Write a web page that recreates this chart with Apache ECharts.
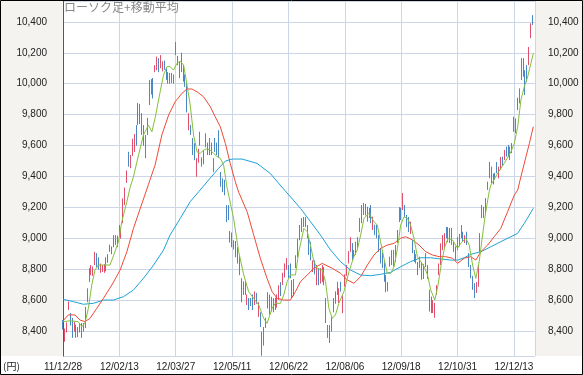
<!DOCTYPE html>
<html><head><meta charset="utf-8">
<script src="https://cdn.jsdelivr.net/npm/echarts@6/dist/echarts.min.js"></script>
<style>html,body{margin:0;padding:0;background:#fff}#c{width:583px;height:375px}</style>
</head><body><div id="c"></div>
<script>
// x tick labels (every 30 trading days, starting at index 0)
const tickLabels = ['11/12/28','12/02/13','12/03/27','12/05/11','12/06/22','12/08/06','12/09/18','12/10/31','12/12/13'];
// daily candles: [open, close, low, high], index = trading day
const candles = [
[8440,8423,8415,8475],[8380,8398,8335,8420],[8400,8455,8395,8460],[8545,8580,8540,8595],[8515,8488,8440,8520],
[8480,8390,8360,8488],[8405,8450,8400,8465],[8440,8390,8360,8445],[8420,8385,8365,8430],[8400,8440,8395,8455],
[8450,8378,8360,8456],[8405,8450,8400,8456],[8440,8550,8424,8560],[8600,8660,8590,8680],[8725,8780,8720,8810],
[8770,8800,8765,8830],[8780,8790,8760,8820],[8835,8890,8830,8915],[8900,8850,8817,8907],[8870,8820,8800,8880],
[8785,8830,8780,8840],[8790,8820,8785,8830],[8800,8810,8780,8835],[8800,8870,8790,8880],[8890,8855,8845,8900],
[8955,8925,8915,8962],[8930,8917,8900,8950],[8950,9015,8945,9023],[8965,9005,8960,9023],[8955,9000,8945,9020],
[9025,9060,9015,9088],[9020,9050,9000,9070],[9110,9250,9100,9260],[9250,9320,9217,9330],[9370,9430,9360,9440],
[9555,9490,9465,9561],[9460,9530,9455,9540],[9540,9630,9535,9645],[9570,9660,9560,9675],[9725,9620,9600,9733],
[9870,9750,9733,9876],[9860,9760,9740,9870],[9800,9690,9670,9810],[9720,9620,9600,9733],[9530,9660,9520,9670],
[9680,9770,9670,9780],[9870,10010,9862,10024],[9950,10020,9930,10030],[10030,9920,9905,10037],[10078,10115,10075,10120],
[10090,10170,10088,10175],[10160,10080,10075,10165],[10105,10180,10100,10185],[10085,10140,10080,10145],[10140,10110,10090,10150],
[10095,10030,10025,10100],[10070,10005,10000,10075],[10010,10060,10000,10070],[10060,10020,10005,10070],[10020,10040,10000,10060],
[10190,10250,10185,10270],[10175,10125,10120,10180],[10135,10045,10036,10140],[10195,10085,10075,10200],[10115,10020,10013,10120],
[10050,10000,9980,10060],[10005,9825,9815,10010],[9705,9800,9700,9810],[9730,9680,9670,9735],[9645,9550,9540,9650],
[9610,9515,9507,9617],[9405,9510,9400,9520],[9510,9560,9490,9580],[9605,9680,9600,9690],[9520,9470,9465,9525],
[9560,9500,9480,9570],[9595,9670,9590,9680],[9615,9545,9540,9620],[9640,9560,9540,9650],[9560,9600,9540,9620],
[9435,9515,9430,9520],[9645,9565,9560,9650],[9600,9560,9540,9620],[9695,9530,9525,9700],[9425,9340,9335,9430],
[9380,9330,9300,9390],[9375,9290,9280,9380],[9210,9120,9107,9217],[9200,9150,9120,9217],[9045,8990,8975,9050],
[9030,8955,8945,9040],[8960,8970,8930,8990],[8970,8900,8880,8985],[8940,8850,8840,8945],[8885,8780,8765,8893],
[8740,8600,8590,8745],[8640,8715,8637,8725],[8720,8645,8637,8725],[8575,8630,8572,8640],[8615,8545,8540,8617],
[8610,8575,8565,8617],[8635,8550,8540,8640],[8575,8650,8572,8660],[8640,8600,8580,8650],[8500,8585,8495,8590],
[8520,8440,8430,8525],[8255,8390,8245,8400],[8330,8410,8310,8430],[8430,8480,8424,8490],[8555,8645,8550,8655],
[8630,8540,8510,8640],[8545,8610,8530,8625],[8600,8540,8525,8617],[8545,8600,8540,8620],[8560,8630,8555,8640],
[8610,8690,8605,8700],[8700,8650,8630,8720],[8705,8770,8700,8780],[8760,8820,8750,8840],[8805,8865,8800,8875],
[8825,8760,8745,8830],[8835,8750,8745,8840],[8725,8630,8617,8733],[8640,8720,8630,8740],[8815,8885,8810,8893],
[8890,8990,8880,9000],[8995,9080,8990,9088],[9050,9125,9043,9133],[9130,9090,9075,9140],[9135,9080,9075,9140],
[9010,9080,9003,9088],[9005,8900,8895,9010],[8975,8870,8860,8980],[8790,8850,8785,8860],[8850,8790,8770,8860],
[8705,8820,8700,8830],[8805,8710,8700,8810],[8720,8790,8710,8810],[8725,8820,8720,8830],[8810,8705,8700,8817],
[8610,8470,8456,8617],[8365,8435,8360,8443],[8440,8340,8327,8443],[8405,8490,8400,8497],[8530,8610,8525,8617],
[8640,8600,8580,8660],[8640,8715,8637,8722],[8590,8670,8585,8680],[8715,8665,8658,8722],[8525,8625,8520,8635],
[8700,8760,8690,8770],[8770,8810,8760,8830],[8850,8900,8840,8920],[8920,9000,8915,9010],[8965,8870,8862,8972],
[8920,8880,8875,8927],[8900,8970,8895,8980],[8945,9005,8940,9010],[9045,9125,9043,9133],[9105,9205,9100,9217],
[9160,9220,9153,9230],[9210,9170,9150,9225],[9200,9120,9110,9206],[9140,9190,9133,9198],[9210,9105,9100,9217],
[9060,9135,9056,9142],[9085,9030,9023,9090],[9080,9010,9003,9088],[9020,8925,8915,9023],[8930,8850,8840,8940],
[8905,8815,8810,8913],[8845,8730,8722,8852],[8760,8665,8655,8765],[8700,8680,8660,8720],[8825,8875,8820,8884],
[8835,8920,8830,8926],[8825,8880,8820,8927],[8855,8950,8850,8960],[8975,9050,8972,9056],[9110,9195,9107,9204],
[9190,9130,9120,9200],[9190,9280,9185,9294],[9210,9145,9140,9217],[9150,9080,9075,9153],[9135,9050,9043,9140],
[9050,9090,9030,9110],[8985,8910,8906,8990],[8925,8860,8850,8927],[8860,8880,8840,8900],[8845,8775,8765,8850],
[8815,8875,8810,8884],[8845,8745,8735,8850],[8750,8820,8740,8835],[8820,8900,8817,8907],[8820,8760,8740,8830],
[8665,8545,8530,8670],[8620,8530,8520,8626],[8525,8595,8520,8604],[8495,8580,8490,8585],[8640,8695,8637,8700],
[8770,8835,8765,8840],[8840,8960,8830,8970],[8930,9015,8927,9023],[8945,9025,8940,9036],[9070,9010,9003,9075],
[8980,9060,8978,9075],[9065,8980,8972,9069],[8980,9050,8960,9070],[8975,8920,8915,8978],[8930,8880,8860,8950],
[8930,9000,8927,9010],[8960,9000,8950,9030],[9005,9080,9003,9088],[9040,8985,8980,9045],[8975,9015,8972,9023],
[9040,8965,8960,9045],[8900,8825,8817,8907],[8825,8755,8745,8830],[8750,8690,8670,8760],[8700,8640,8617,8713],
[8660,8700,8650,8720],[8700,8820,8690,8830],[8915,9025,8913,9036],[9135,9210,9133,9217],[9140,9195,9133,9206],
[9160,9250,9153,9262],[9320,9360,9315,9368],[9490,9400,9390,9495],[9460,9370,9357,9465],[9370,9400,9350,9420],
[9420,9385,9379,9425],[9490,9430,9423,9495],[9395,9460,9390,9465],[9445,9520,9443,9527],[9515,9480,9470,9530],
[9510,9565,9507,9572],[9590,9535,9530,9594],[9600,9530,9527,9605],[9510,9590,9508,9594],[9615,9560,9552,9617],
[9695,9780,9690,9787],[9690,9770,9681,9777],[9905,9835,9830,9910],[9880,9960,9873,9970],[10030,10155,10024,10165],
[10160,10050,10045,10165],[10080,9935,9927,10088],[10115,10015,10010,10120],[10125,10230,10120,10237],[10300,10385,10294,10390],
[10435,10390,10379,10443]
];
// moving averages: [trading-day index, value]
const maFast = [[0,8465],[4,8470],[8,8465],[10,8432],[11.7,8455],[13.5,8551],[15.3,8701],[17,8797],[18.8,8830],[22,8830],[25,8830],[27,8894],[29.5,8980],[31.3,9110],[34,9239],[35.7,9330],[37.5,9400],[40.2,9540],[42.8,9669],[45.5,9733],[47.3,9690],[49,9777],[51.7,9948],[53.5,10056],[55.3,10110],[57,10110],[58.8,10088],[60.6,10131],[62.4,10146],[64.2,10120],[66,9992],[67.7,9862],[69.5,9669],[71.3,9561],[73,9550],[74.8,9572],[76.6,9580],[78.4,9572],[80.2,9550],[82,9530],[83.7,9519],[85.5,9475],[87.3,9330],[90.8,9131],[93.5,8916],[96.2,8766],[98.8,8658],[101.5,8615],[104.2,8572],[106.8,8486],[108.6,8454],[111.3,8551],[113,8583],[115.7,8583],[117.5,8637],[119.3,8723],[121,8766],[123.7,8766],[125.5,8916],[128.2,9067],[130,9045],[131.7,8959],[133.5,8852],[135.3,8809],[138,8798],[139.7,8723],[141.5,8551],[143.3,8486],[145,8508],[146.8,8583],[149.5,8658],[152.2,8787],[154.8,8884],[156.6,8927],[158.4,9024],[160.2,9131],[162.8,9164],[165.5,9110],[167.3,9088],[169,8981],[170.8,8874],[172.6,8777],[174.4,8777],[176.2,8819],[178,8938],[179.7,9088],[181.5,9142],[183.3,9131],[185,9088],[186.8,9003],[188.6,8884],[190.4,8852],[192.2,8819],[194,8766],[195.7,8669],[197.9,8604],[199.6,8701],[201.4,8841],[203.2,8948],[205,9003],[207.3,8992],[210,8938],[211.7,8970],[214.4,9003],[216.2,8959],[218,8830],[219.7,8744],[221.5,8852],[223.3,9024],[225,9174],[226.8,9303],[227.7,9346],[231.3,9422],[234.8,9486],[238.4,9561],[240.2,9615],[242,9723],[243.7,9895],[245.5,9981],[247.3,10045],[249,10131],[250.3,10196]];
const maMid = [[0,8469],[2.8,8508],[6.4,8508],[9,8475],[11.7,8465],[14.4,8486],[18,8551],[21.5,8615],[26,8701],[30.4,8798],[34,8916],[37.5,9067],[41,9191],[45.5,9351],[49,9475],[52.6,9669],[56.2,9798],[59.7,9884],[63.3,9938],[66,9966],[68.6,9966],[71.3,9948],[74.8,9916],[78.4,9852],[81,9787],[83.7,9723],[86.4,9615],[89,9486],[91.7,9368],[93.5,9300],[98,9174],[101.5,9024],[105,8874],[108.6,8744],[111.3,8658],[114,8615],[117.5,8604],[121,8604],[123.7,8658],[126.4,8723],[130,8766],[133.5,8809],[138,8841],[139.7,8830],[143.3,8809],[147.7,8777],[151.3,8734],[154.8,8712],[158.4,8755],[162,8830],[165.5,8895],[169,8938],[172.6,8959],[176.2,8970],[179.7,9003],[182.4,9013],[186,8992],[189.5,8959],[193,8916],[196.6,8895],[200.2,8884],[203.7,8884],[207.3,8874],[210,8841],[213.5,8874],[217,8884],[219.7,8862],[222.4,8916],[226,8959],[229.5,9013],[233,9067],[236.6,9174],[240.2,9282],[242,9314],[243.7,9400],[246.4,9529],[248.2,9615],[250.3,9723]];
const maSlow = [[0,8609],[5.5,8594],[10.8,8577],[16.2,8583],[21.5,8604],[26.8,8604],[32.2,8626],[37.5,8669],[42.8,8744],[48.2,8830],[53.5,8927],[57,9024],[62.4,9131],[67.7,9239],[72.2,9303],[77.5,9379],[82.8,9454],[86.4,9501],[90,9514],[95.3,9514],[103.3,9486],[110.4,9420],[116,9340],[121,9271],[126.4,9196],[131.7,9110],[137,9024],[142.4,8927],[147.7,8852],[153,8798],[158.4,8766],[163.7,8761],[169,8770],[174.4,8783],[179.7,8819],[185,8852],[190.4,8877],[195.7,8877],[201,8869],[206.4,8862],[210,8862],[213.5,8877],[217,8899],[222.4,8916],[227.7,8948],[233,8981],[238.4,9013],[242,9035],[245.5,9099],[250.3,9196]];

const NUMFONT = "'Liberation Sans', Arial, sans-serif";
const chart = echarts.init(document.getElementById('c'), null, {renderer: 'canvas'});
const gridLine = '#cdd6e7';
const yAxisBase = {
  type: 'value', min: 8243, max: 10534, splitNumber: 11, scale: true,
  axisTick: {show: false},
  axisLabel: {
    color: '#222', fontSize: 10, fontFamily: NUMFONT,
    formatter: v => (Math.abs(v / 200 - Math.round(v / 200)) < 1e-6) ? Math.round(v).toLocaleString('en-US') : ''
  }
};
chart.setOption({
  animation: false,
  backgroundColor: '#fff',
  grid: {left: 63, right: 48, top: 1, bottom: 19, containLabel: false, outerBoundsMode: 'none'},
  xAxis: {
    type: 'value', min: 0, max: 251.2, interval: 30,
    axisLine: {show: false}, axisTick: {show: false},
    splitLine: {show: true, lineStyle: {color: gridLine, width: 1}},
    axisLabel: {
      color: '#222', fontSize: 10, fontFamily: NUMFONT, margin: 6,
      formatter: v => (v % 30 === 0 && tickLabels[v / 30]) ? tickLabels[v / 30] : ''
    }
  },
  yAxis: [
    Object.assign({}, yAxisBase, {
      position: 'left',
      axisLine: {show: true, lineStyle: {color: '#555', width: 1}},
      splitLine: {show: true, lineStyle: {color: gridLine, width: 1}},
      axisLabel: Object.assign({}, yAxisBase.axisLabel, {margin: 16})
    }),
    Object.assign({}, yAxisBase, {
      position: 'right',
      axisLine: {show: false},
      splitLine: {show: false},
      axisLabel: Object.assign({}, yAxisBase.axisLabel, {margin: 13})
    })
  ],
  graphic: {elements: [
    {type: 'rect', silent: true, z: -1, shape: {x: 1, y: 1, width: 61.5, height: 355}, style: {fill: '#f4f3f0'}},
    {type: 'rect', silent: true, z: -1, shape: {x: 535, y: 1, width: 47, height: 355}, style: {fill: '#f4f3f0'}},
    {type: 'text', silent: true, z: 10, x: 64, y: 1, style: {text: 'ローソク足+移動平均', fill: '#888', fontSize: 12, fontFamily: "'Noto Sans CJK JP', sans-serif"}},
    {type: 'text', silent: true, z: 10, x: 3, y: 361, style: {text: '(円)', fill: '#222', fontSize: 10, fontFamily: "'Noto Sans CJK JP', sans-serif"}},
    {type: 'rect', silent: true, z: 100, shape: {x: 0.5, y: 0.5, width: 582, height: 374}, style: {fill: 'none', stroke: '#000', lineWidth: 1}}
  ]},
  series: [
    {
      type: 'candlestick', yAxisIndex: 0,
      data: candles.map((c, i) => [i, c[0], c[1], c[2], c[3]]),
      barWidth: 1,
      itemStyle: {color: '#e0506a', color0: '#4a88c4', borderColor: '#e0506a', borderColor0: '#4a88c4', borderWidth: 1}
    },
    {type: 'line', yAxisIndex: 0, data: maSlow, symbol: 'none', lineStyle: {color: '#1ea2d8', width: 1}, z: 3},
    {type: 'line', yAxisIndex: 0, data: maMid, symbol: 'none', lineStyle: {color: '#f04a35', width: 1}, z: 3},
    {type: 'line', yAxisIndex: 0, data: maFast, symbol: 'none', lineStyle: {color: '#82c03c', width: 1}, z: 4}
  ]
});
</script>
</body></html>
